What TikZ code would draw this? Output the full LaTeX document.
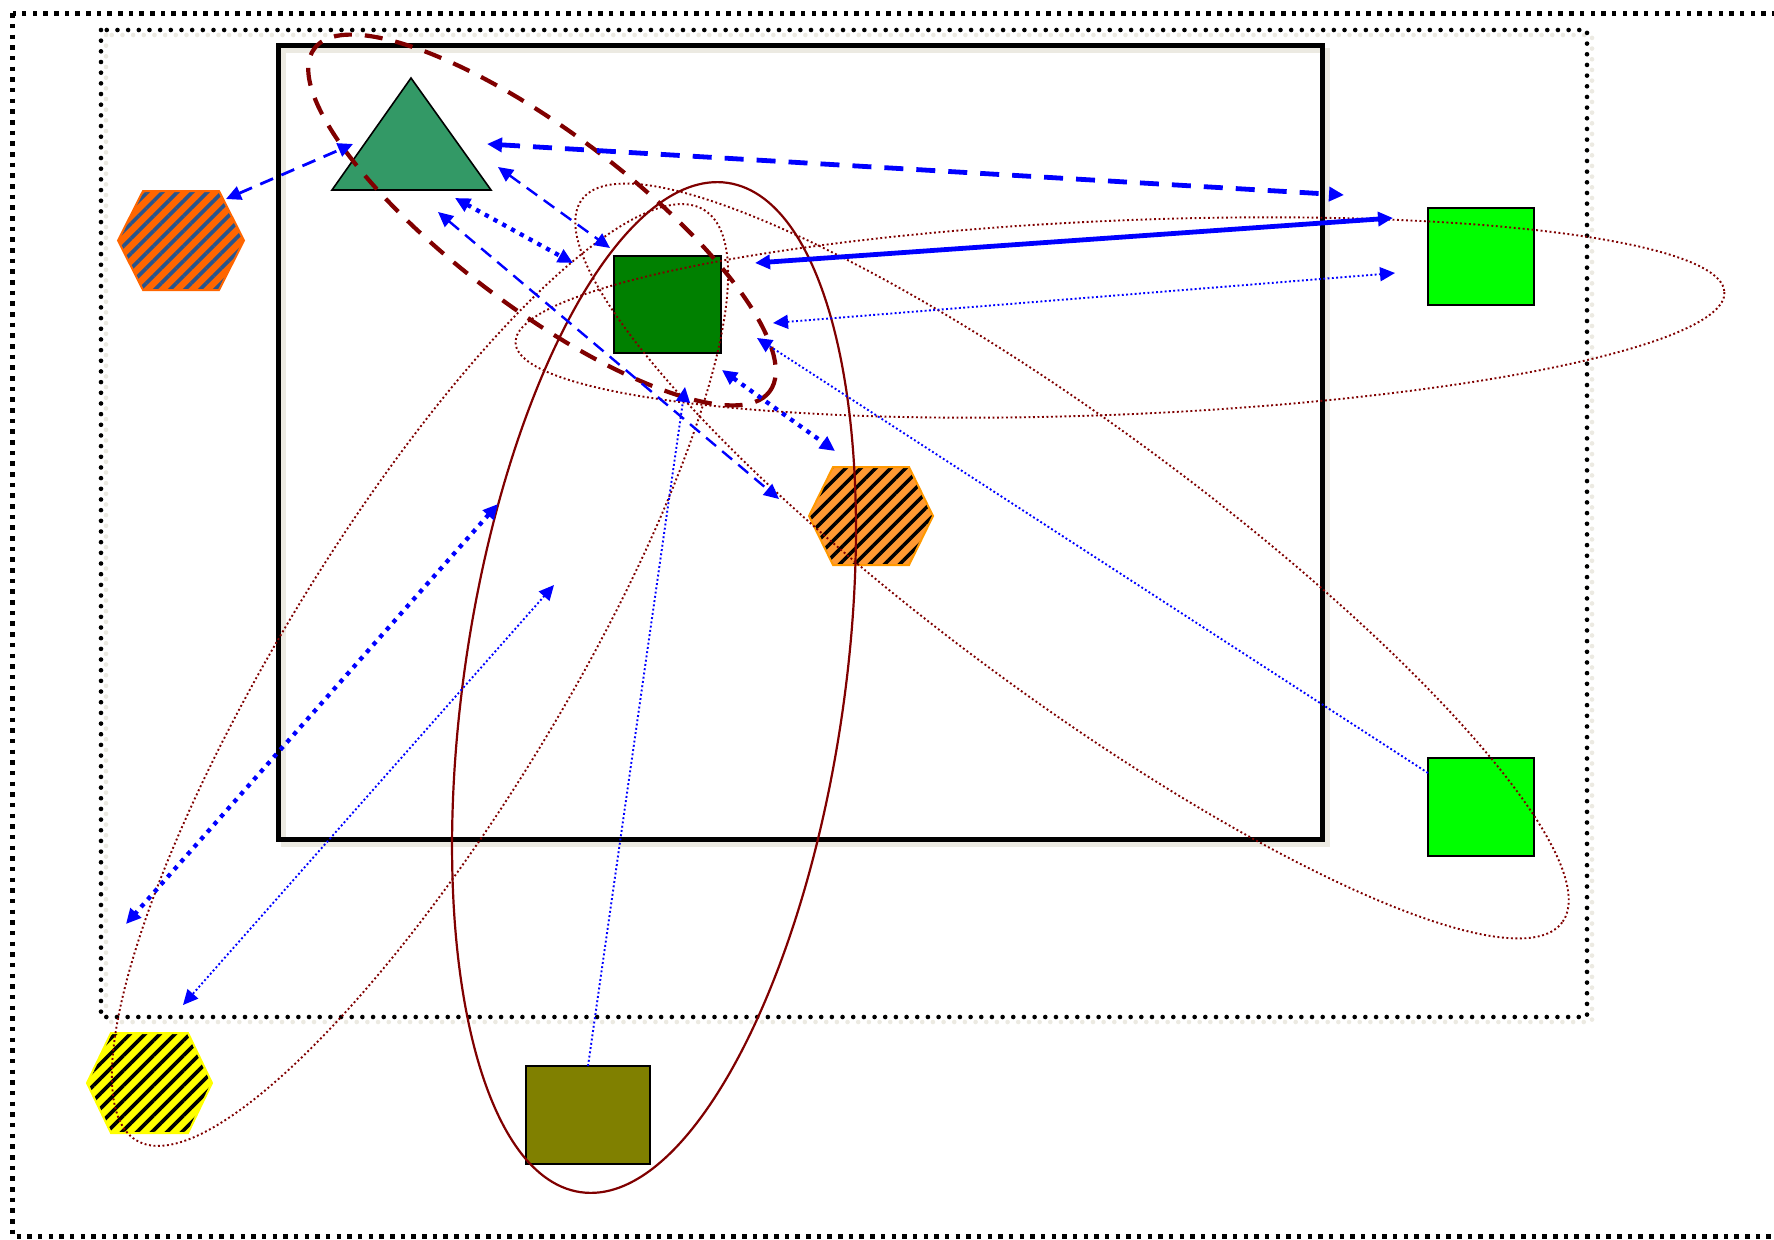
\documentclass[tikz,border=0pt]{standalone}
\usetikzlibrary{arrows.meta,patterns.meta}
\definecolor{shadowc}{RGB}{236,234,226}
\definecolor{maroonc}{RGB}{128,0,0}
\definecolor{bluec}{RGB}{0,0,255}
\definecolor{trifill}{RGB}{51,153,102}
\definecolor{dkgreen}{RGB}{0,128,0}
\definecolor{limec}{RGB}{0,255,0}
\definecolor{olivec}{RGB}{128,128,0}
\definecolor{hexAfill}{RGB}{255,102,0}
\definecolor{hexAstripe}{RGB}{40,85,140}
\definecolor{hexBfill}{RGB}{255,153,51}
\definecolor{hexBborder}{RGB}{255,153,0}
\definecolor{yelc}{RGB}{255,255,0}
\begin{document}
\begin{tikzpicture}[x=1pt, y=-1pt,
  >={Triangle[length=15pt,width=14pt]},
  outerframe/.style={line width=4.5pt, dash pattern=on 4.5pt off 6.17pt},
  innerframe/.style={line width=4.6pt, line cap=round, dash pattern=on 0pt off 10.67pt},
  mainframe/.style={line width=5pt},
  box/.style={draw=black, line width=2.2pt, inner sep=0pt, outer sep=0pt},
  hexA/.style={preaction={fill=hexAfill}, pattern={Lines[angle=45,distance=10.6pt,line width=3.6pt]}, pattern color=hexAstripe, draw=hexAfill, line width=2pt},
  hexB/.style={preaction={fill=hexBfill}, pattern={Lines[angle=45,distance=10.6pt,line width=3.6pt]}, pattern color=black, draw=hexBborder, line width=2pt},
  hexC/.style={preaction={fill=yelc}, pattern={Lines[angle=45,distance=10.6pt,line width=3.6pt]}, pattern color=black, draw=yelc, line width=2pt},
  trishape/.style={fill=trifill, draw=black, line width=1.6pt, line join=miter},
  redthick/.style={maroonc, line width=4.2pt, dash pattern=on 18pt off 13pt},
  redsolid/.style={maroonc, line width=2.2pt},
  reddot/.style={maroonc, line width=1.9pt, dash pattern=on 1.9pt off 2.6pt},
  bdash/.style={bluec, line width=2.8pt, dash pattern=on 14pt off 9pt},
  bdashthick/.style={bluec, line width=4.8pt, dash pattern=on 19pt off 13pt},
  bdashthin/.style={bluec, line width=2.4pt, dash pattern=on 13pt off 8pt},
  bdotthick/.style={bluec, line width=4.3pt, dash pattern=on 4.3pt off 5.7pt},
  bdotthin/.style={bluec, line width=1.9pt, dash pattern=on 1.9pt off 2.4pt},
  bsolid/.style={bluec, line width=4.8pt}
]
\useasboundingbox (0,0) rectangle (1774,1239);
\clip (0,0) rectangle (1774,1239);
\fill[white] (0,0) rectangle (1774,1239);

% frames
\draw[outerframe] (12.7,13.3) rectangle (1800,1236.5);
\draw[innerframe, shadowc] (106,35) rectangle (1592,1022);
\draw[innerframe] (101,30) rectangle (1587,1017);
\draw[shadowc, line width=5pt] (283,51) rectangle (1327,844);
\draw[mainframe] (278,46) rectangle (1322,839);

% shapes
\path[trishape] (411,78) -- (491,190) -- (332,190) -- cycle;
\coordinate (tri) at (411,153);
\node[box, fill=dkgreen, minimum width=107pt, minimum height=97pt] (dg) at (667.5,304.5) {};
\node[box, fill=limec, minimum width=106pt, minimum height=97pt] (g1) at (1481,256.5) {};
\node[box, fill=limec, minimum width=106pt, minimum height=98pt] (g2) at (1481,807) {};
\node[box, fill=olivec, minimum width=124pt, minimum height=98pt] (ol) at (588,1115) {};
\path[hexA] (118,240.5) -- (143,191) -- (219,191) -- (244,240.5) -- (219,290) -- (143,290) -- cycle;
\coordinate (hx1) at (181,240.5);
\path[hexB] (809,516) -- (833,467) -- (909,467) -- (933,516) -- (909,565) -- (833,565) -- cycle;
\coordinate (hx2) at (871,516);
\path[hexC] (87,1083) -- (111,1033) -- (188,1033) -- (212,1083) -- (188,1133) -- (111,1133) -- cycle;
\coordinate (hx3) at (149.5,1083);

% red ellipses
\draw[redsolid] (654,687.5) ellipse [x radius=190, y radius=510, rotate=-8.3];
\draw[reddot] (1120,317.5) ellipse [x radius=605, y radius=97, rotate=2.4];
\draw[reddot] (1072,561) ellipse [x radius=609, y radius=135, rotate=-36.4];
\draw[reddot] (420,675) ellipse [x radius=545, y radius=140, rotate=58.6];
\draw[redthick] (542,220) ellipse [x radius=285, y radius=88, rotate=-37];

% connector end points
\coordinate (a1s) at (226,199);  \coordinate (a1e) at (353,144);
\coordinate (a2s) at (487,144);  \coordinate (a2e) at (1344,195);
\coordinate (a3s) at (498,167);  \coordinate (a3e) at (610,248);
\coordinate (a4s) at (455,198);  \coordinate (a4e) at (573,263);
\coordinate (a5s) at (438,212);  \coordinate (a5e) at (779,499);
\coordinate (a6s) at (755,263);  \coordinate (a6e) at (1393,218);
\coordinate (a7s) at (773,323);  \coordinate (a7e) at (1395,273);
\coordinate (a8s) at (1428,773); \coordinate (a8e) at (757,338);
\coordinate (a9s) at (722,370);  \coordinate (a9e) at (835,451);
\coordinate (a10s) at (588,1066); \coordinate (a10e) at (685,387);
\coordinate (a11s) at (498,504); \coordinate (a11e) at (126,924);
\coordinate (a12s) at (554,585); \coordinate (a12e) at (183,1005);

% blue connectors
\draw[bdash, <->] (a1s) -- (a1e);
\draw[bdashthick, <->] (a2s) -- (a2e);
\draw[bdashthin, <->] (a3s) -- (a3e);
\draw[bdotthick, <->] (a4s) -- (a4e);
\draw[bdashthin, <->] (a5s) -- (a5e);
\draw[bsolid, <->] (a6s) -- (a6e);
\draw[bdotthin, <->] (a7s) -- (a7e);
\draw[bdotthin, ->] (a8s) -- (a8e);
\draw[bdotthick, <->] (a9s) -- (a9e);
\draw[bdotthin, ->] (a10s) -- (a10e);
\draw[bdotthick, <->] (a11s) -- (a11e);
\draw[bdotthin, <->] (a12s) -- (a12e);
\end{tikzpicture}
\end{document}
